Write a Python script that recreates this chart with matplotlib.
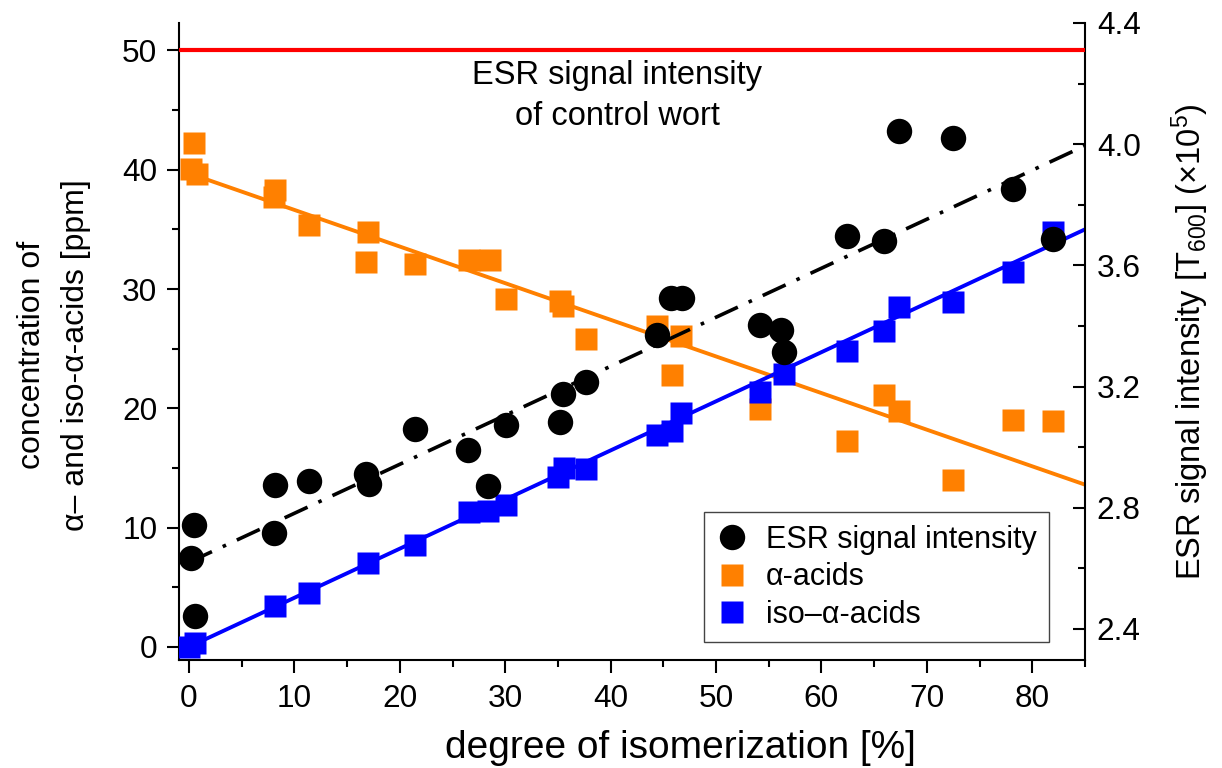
import matplotlib
matplotlib.use("Agg")
import matplotlib.pyplot as plt
from matplotlib.ticker import MultipleLocator
from matplotlib.lines import Line2D

plt.rcParams['font.family'] = ['Liberation Sans', 'DejaVu Sans']
plt.rcParams['mathtext.fontset'] = 'custom'
plt.rcParams['mathtext.rm'] = 'Liberation Sans'
plt.rcParams['mathtext.it'] = 'Liberation Sans:italic'

# ESR signal intensity (right axis, x10^5)
esr_x = [0.6, 0.2, 0.5, 8.1, 8.2, 11.4, 16.8, 17.1, 21.4, 26.5, 28.4, 30.1, 35.2, 35.5,
         37.7, 44.4, 45.7, 46.8, 54.2, 56.2, 56.4, 62.4, 65.9, 67.4, 72.5, 78.2, 82.0]
esr_y = [2.442, 2.634, 2.742, 2.718, 2.876, 2.888, 2.911, 2.877, 3.061, 2.992, 2.873, 3.073,
         3.082, 3.175, 3.216, 3.371, 3.492, 3.492, 3.402, 3.386, 3.315, 3.698, 3.680, 4.045,
         4.022, 3.851, 3.688]

# alpha-acids (left axis, ppm)
alpha_x = [0.5, 0.2, 0.8, 8.2, 8.1, 11.4, 17.0, 16.8, 21.4, 26.6, 28.6, 30.1, 35.2, 35.5,
           37.7, 44.4, 46.7, 45.8, 54.2, 62.4, 65.9, 67.4, 72.5, 78.2, 82.0]
alpha_y = [42.2, 40.1, 39.6, 38.3, 37.7, 35.4, 34.8, 32.3, 32.1, 32.4, 32.4, 29.2, 29.0, 28.6,
           25.8, 26.9, 26.1, 22.8, 19.9, 17.3, 21.1, 19.8, 14.0, 19.0, 18.9]

# iso-alpha-acids (left axis, ppm)
iso_x = [0.0, 0.6, 8.2, 11.4, 17.0, 21.4, 26.6, 28.4, 30.1, 35.0, 35.6, 37.7, 44.4, 45.8,
         46.7, 54.2, 56.4, 62.4, 65.9, 67.4, 72.5, 78.2, 82.0]
iso_y = [0.0, 0.3, 3.4, 4.5, 7.0, 8.5, 11.3, 11.4, 11.9, 14.2, 15.0, 14.9, 17.8, 18.1,
         19.6, 21.4, 22.9, 24.8, 26.5, 28.5, 28.9, 31.4, 34.8]

# linear fit lines, endpoints
fit_x = [0, 85]
alpha_fit = [39.7, 13.6]
iso_fit = [0.0, 35.0]
esr_fit = [2.62, 3.995]

control_esr = 4.312

orange = '#FF8000'
blue = '#0000FF'

fig = plt.figure(figsize=(12.22, 7.68), dpi=100)
ax = fig.add_axes([179/1222, 108/768, 906/1222, 637/768])
ax2 = ax.twinx()

ax.plot(alpha_x, alpha_y, 's', color=orange, ms=16.3, mec='none', zorder=2)
ax.plot(fit_x, alpha_fit, '-', color=orange, lw=2.8, zorder=3)
ax.plot(iso_x, iso_y, 's', color=blue, ms=16.3, mec='none', zorder=4)
ax.plot(fit_x, iso_fit, '-', color=blue, lw=2.8, zorder=5)

ax2.plot(esr_x, esr_y, 'o', color='k', ms=18.3, mec='none', zorder=2)
ax2.plot(fit_x, esr_fit, color='k', lw=2.6, dashes=(7, 3.3, 1, 3.3), zorder=3)
ax2.axhline(control_esr, color='#FF0000', lw=3, zorder=3)

ax.text(40.6, 46.2, "ESR signal intensity\nof control wort", ha='center', va='center',
        fontsize=23.5, linespacing=1.4)

ax.set_xlim(-0.95, 85)
ax.set_ylim(-1.1, 52.3)
ax2.set_ylim(2.2975, 4.4)

ax.xaxis.set_major_locator(MultipleLocator(10))
ax.xaxis.set_minor_locator(MultipleLocator(5))
ax.yaxis.set_major_locator(MultipleLocator(10))
ax.yaxis.set_minor_locator(MultipleLocator(5))
ax2.yaxis.set_major_locator(MultipleLocator(0.4))
ax2.yaxis.set_minor_locator(MultipleLocator(0.2))

ax.tick_params(which='major', direction='out', length=9, width=1.5, labelsize=22.7)
ax.tick_params(axis='x', which='major', pad=8)
ax.tick_params(axis='y', which='major', pad=6.5)
ax.tick_params(which='minor', direction='out', length=5, width=1.5)
ax2.tick_params(which='major', direction='in', length=9, width=1.5, labelsize=22.7, pad=8.5)
ax2.tick_params(which='minor', direction='in', length=5, width=1.5)

for s in ['top', 'right']:
    ax.spines[s].set_visible(False)
for s in ['top', 'left', 'bottom']:
    ax2.spines[s].set_visible(False)
for s in ['left', 'bottom']:
    ax.spines[s].set_linewidth(1.5)
ax2.spines['right'].set_linewidth(1.5)

ax.set_xlabel('degree of isomerization [%]', fontsize=28, labelpad=12, x=0.553)
ax.set_ylabel('concentration of\n\u03b1\u2013 and iso-\u03b1-acids [ppm]', fontsize=23,
              linespacing=1.62)
ax.yaxis.set_label_coords(-0.097, 0.479)
ax2.set_ylabel('ESR signal intensity [T$_{600}$] (\u00d710$^{5}$)', fontsize=23.5, labelpad=21)

handles = [Line2D([], [], marker='o', ls='none', color='k', mec='none', ms=18.3),
           Line2D([], [], marker='s', ls='none', color=orange, mec='none', ms=16.3),
           Line2D([], [], marker='s', ls='none', color=blue, mec='none', ms=16.3)]
labels = ['ESR signal intensity', '\u03b1-acids', 'iso\u2013\u03b1-acids']
leg = ax2.legend(handles, labels, loc='lower right', bbox_to_anchor=(0.960, 0.028),
                 borderaxespad=0, fontsize=22, fancybox=False, edgecolor='#444444',
                 handletextpad=0.6, labelspacing=0.25, borderpad=0.4, handlelength=1.03,
                 framealpha=1)
leg.get_frame().set_linewidth(1.0)

fig.savefig('out.png', dpi=100)
